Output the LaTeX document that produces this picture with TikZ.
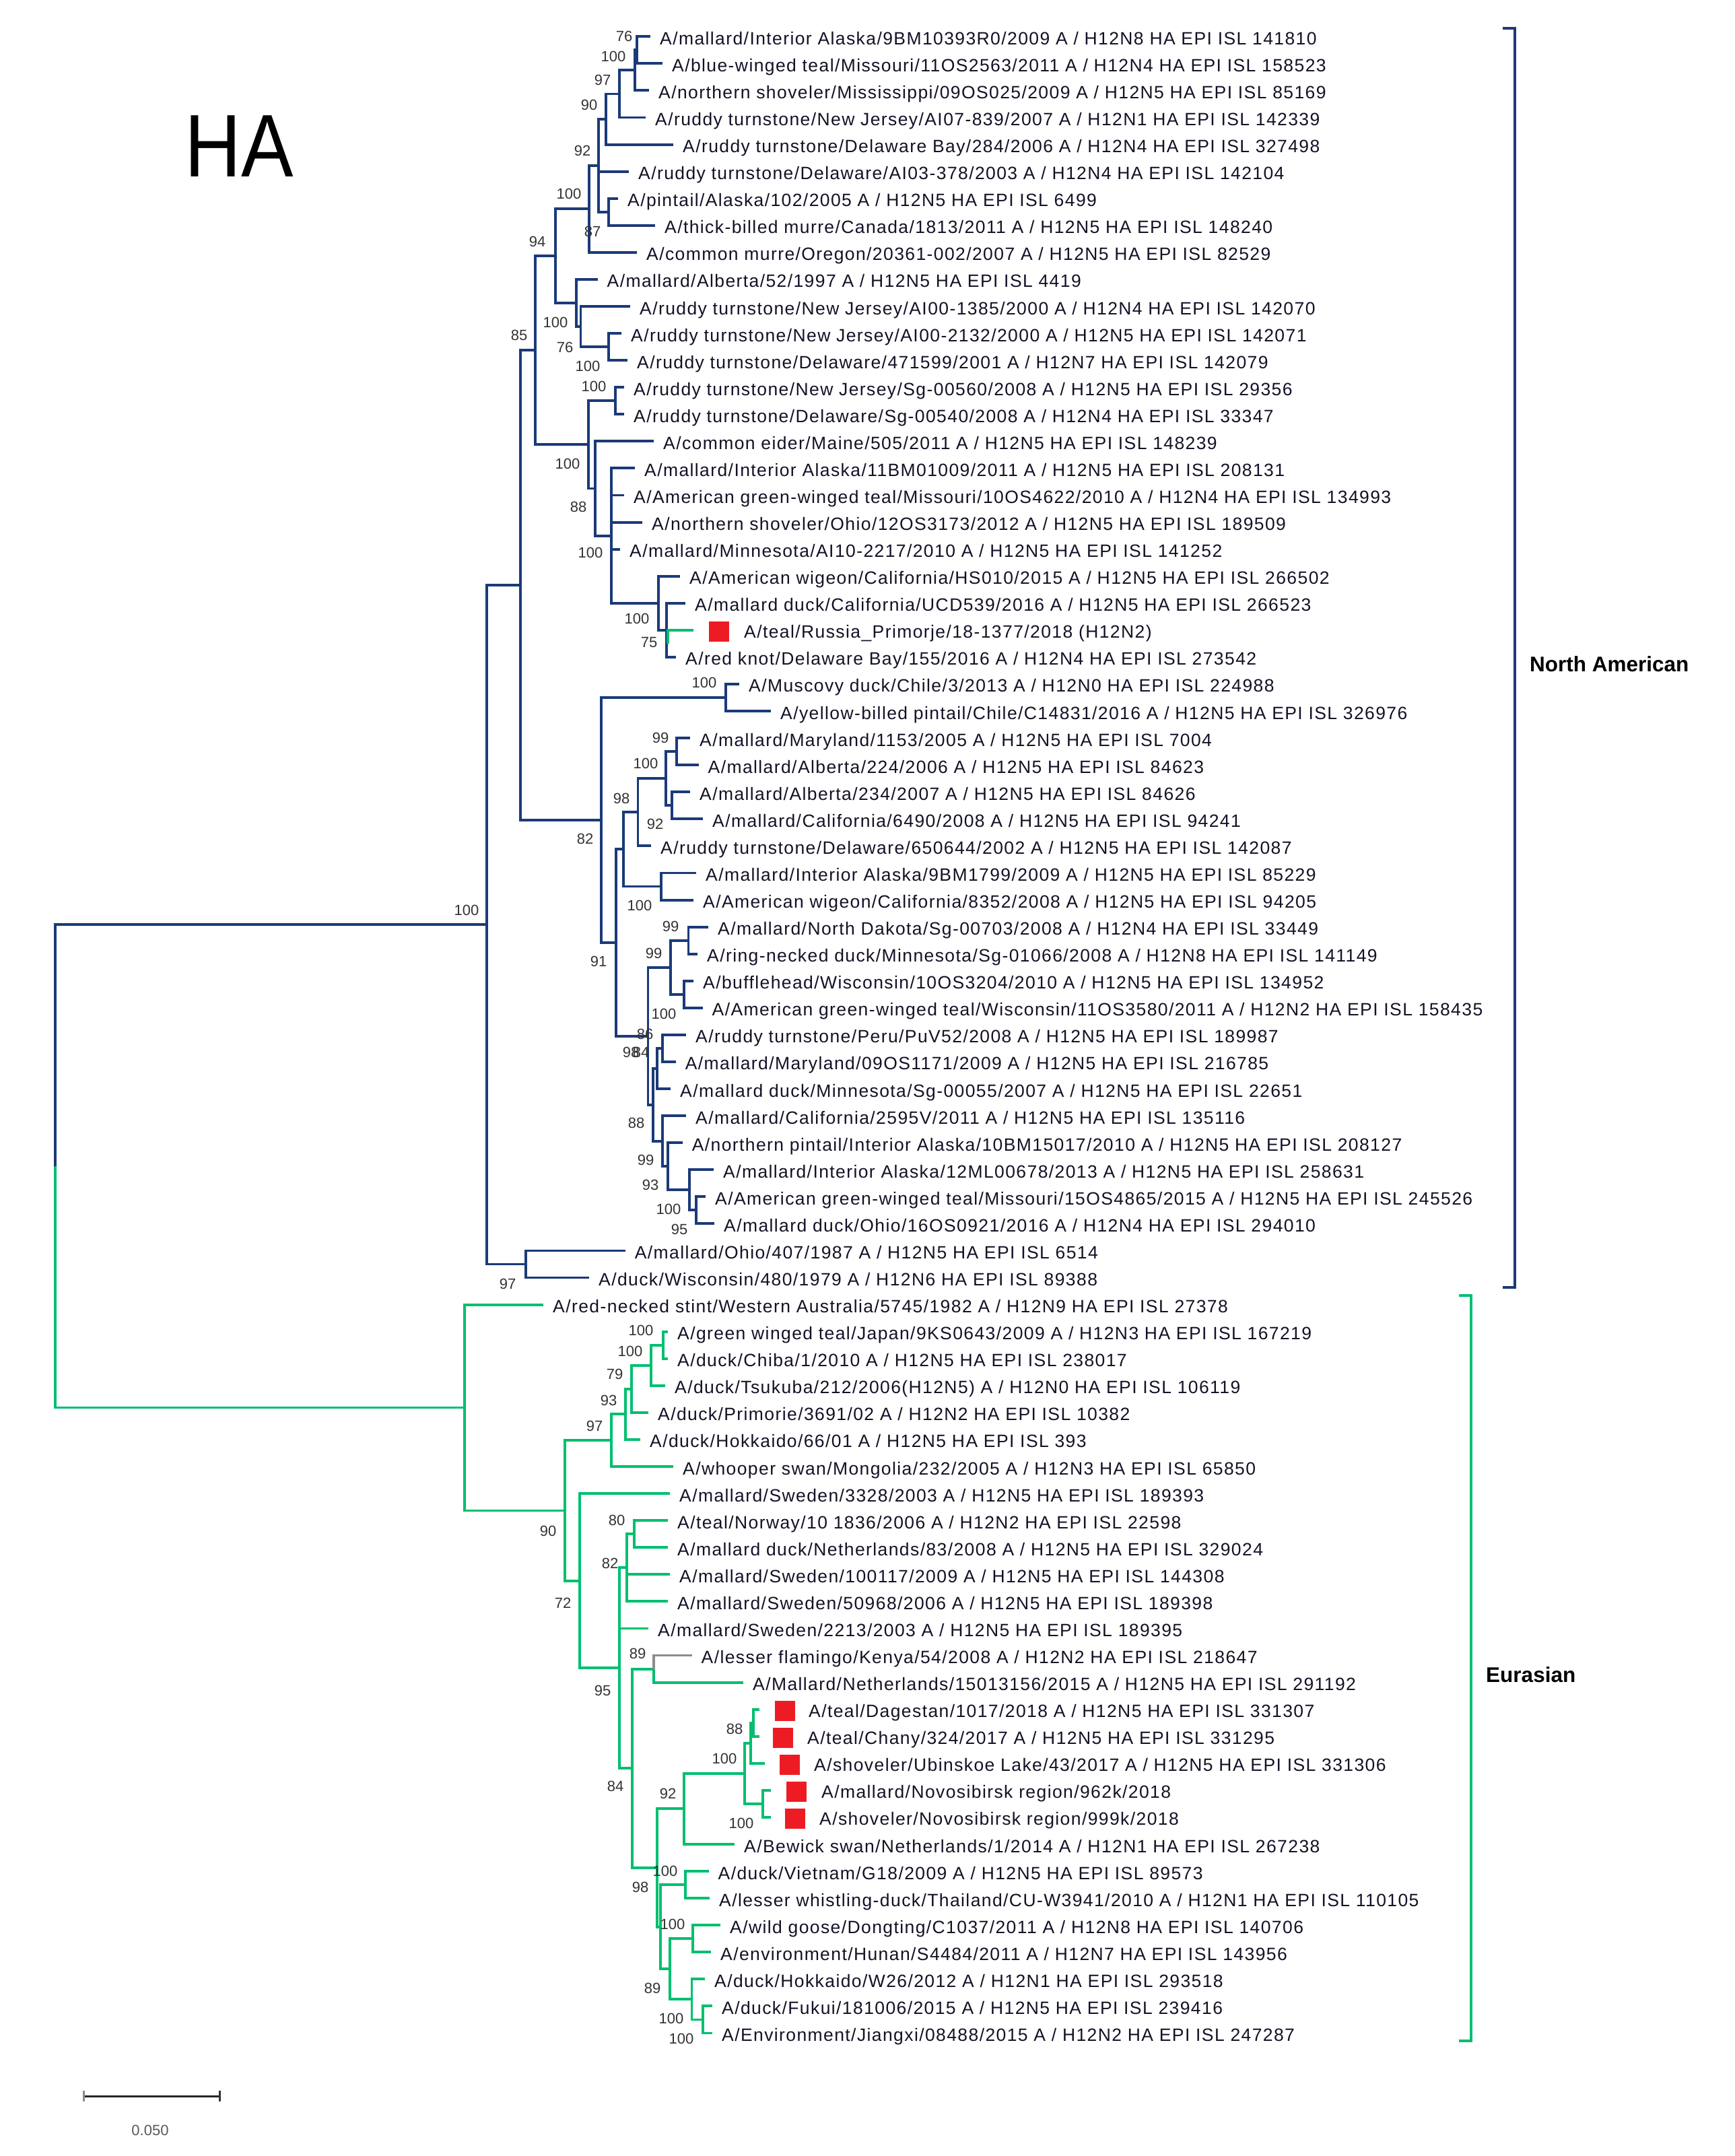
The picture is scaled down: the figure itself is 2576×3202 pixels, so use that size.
\documentclass[tikz,border=0pt]{standalone}
\usepackage{fontspec}
\usepackage{graphicx}
\setmainfont{Liberation Sans}
\newfontfamily\leaffont[LetterSpace=5.3]{Liberation Sans}
\definecolor{nablue}{HTML}{1B3A78}
\definecolor{eugreen}{HTML}{00BF6F}
\definecolor{flgrey}{HTML}{8C8C8C}
\definecolor{sqred}{HTML}{ED1C24}
\definecolor{bsgrey}{HTML}{333333}
\definecolor{txtcol}{HTML}{121226}
\tikzset{
  na/.style={draw=nablue,line width=3.9pt},
  eu/.style={draw=eugreen,line width=3.9pt},
  fl/.style={draw=flgrey,line width=3.9pt},
  lt/.style={anchor=base west,inner sep=0pt,yshift=-12pt,text=txtcol,font=\leaffont\fontsize{26.5}{30}\selectfont},
  ltip/.style={lt,xshift=14pt},
  bs/.style={anchor=center,inner sep=0pt,text height=16pt,text depth=0pt,text=bsgrey,font=\fontsize{22}{24}\selectfont},
  sq/.style={fill=sqred,draw=none,minimum size=30pt,inner sep=0pt},
  brna/.style={draw=nablue,line width=4.6pt},
  breu/.style={draw=eugreen,line width=4.6pt},
  region/.style={anchor=west,inner sep=0pt,text height=23pt,text depth=0pt,font=\bfseries\fontsize{31.5}{34}\selectfont}
}
\newcommand{\lf}[4]{\coordinate (l#1) at (#2,{54.3+(#1-1)*40.07}); \node[ltip] (l#1t) at (l#1) {#3#4};}
\newcommand{\nd}[3]{\coordinate (#1) at (#3,{54.3+(#2-1)*40.07});}
\begin{document}
\begin{tikzpicture}[x=1pt,y=-1pt]
\useasboundingbox (0,0) rectangle (2576,3202);
% ---------------- leaves: North American ----------------
\lf{1}{966}{A/mallard/Interior Alaska/9BM10393R0/2009 A / H12N8 HA EPI ISL 141810}{}
\lf{2}{984}{A/blue-winged teal/Missouri/11OS2563/2011 A / H12N4 HA EPI ISL 158523}{}
\lf{3}{964}{A/northern shoveler/Mississippi/09OS025/2009 A / H12N5 HA EPI ISL 85169}{}
\lf{4}{959}{A/ruddy turnstone/New Jersey/AI07-839/2007 A / H12N1 HA EPI ISL 142339}{}
\lf{5}{1000}{A/ruddy turnstone/Delaware Bay/284/2006 A / H12N4 HA EPI ISL 327498}{}
\lf{6}{934}{A/ruddy turnstone/Delaware/AI03-378/2003 A / H12N4 HA EPI ISL 142104}{}
\lf{7}{918}{A/pintail/Alaska/102/2005 A / H12N5 HA EPI ISL 6499}{}
\lf{8}{973}{A/thick-billed murre/Canada/1813/2011 A / H12N5 HA EPI ISL 148240}{}
\lf{9}{946}{A/common murre/Oregon/20361-002/2007 A / H12N5 HA EPI ISL 82529}{}
\lf{10}{887.5}{A/mallard/Alberta/52/1997 A / H12N5 HA EPI ISL 4419}{}
\lf{11}{936}{A/ruddy turnstone/New Jersey/AI00-1385/2000 A / H12N4 HA EPI ISL 142070}{}
\lf{12}{923}{A/ruddy turnstone/New Jersey/AI00-2132/2000 A / H12N5 HA EPI ISL 142071}{}
\lf{13}{932}{A/ruddy turnstone/Delaware/471599/2001 A / H12N7 HA EPI ISL 142079}{}
\lf{14}{927}{A/ruddy turnstone/New Jersey/Sg-00560/2008 A / H12N5 HA EPI ISL 29356}{}
\lf{15}{927}{A/ruddy turnstone/Delaware/Sg-00540/2008 A / H12N4 HA EPI ISL 33347}{}
\lf{16}{971}{A/common eider/Maine/505/2011 A / H12N5 HA EPI ISL 148239}{}
\lf{17}{943}{A/mallard/Interior Alaska/11BM01009/2011 A / H12N5 HA EPI ISL 208131}{}
\lf{18}{927}{A/American green-winged teal/Missouri/10OS4622/2010 A / H12N4 HA EPI ISL 134993}{}
\lf{19}{954}{A/northern shoveler/Ohio/12OS3173/2012 A / H12N5 HA EPI ISL 189509}{}
\lf{20}{921}{A/mallard/Minnesota/AI10-2217/2010 A / H12N5 HA EPI ISL 141252}{}
\lf{21}{1010}{A/American wigeon/California/HS010/2015 A / H12N5 HA EPI ISL 266502}{}
\lf{22}{1018}{A/mallard duck/California/UCD539/2016 A / H12N5 HA EPI ISL 266523}{}
\coordinate (l23) at (1030,{54.3+22*40.07});
\node[sq] (s23) at (1068,{54.3+22*40.07+2}) {};
\node[lt] (l23t) at (1105,{54.3+22*40.07}) {A/teal/Russia\_Primorje/18-1377/2018 (H12N2)};
\lf{24}{1004}{A/red knot/Delaware Bay/155/2016 A / H12N4 HA EPI ISL 273542}{}
\lf{25}{1098}{A/Muscovy duck/Chile/3/2013 A / H12N0 HA EPI ISL 224988}{}
\lf{26}{1145}{A/yellow-billed pintail/Chile/C14831/2016 A / H12N5 HA EPI ISL 326976}{}
\lf{27}{1025}{A/mallard/Maryland/1153/2005 A / H12N5 HA EPI ISL 7004}{}
\lf{28}{1037.5}{A/mallard/Alberta/224/2006 A / H12N5 HA EPI ISL 84623}{}
\lf{29}{1025}{A/mallard/Alberta/234/2007 A / H12N5 HA EPI ISL 84626}{}
\lf{30}{1044}{A/mallard/California/6490/2008 A / H12N5 HA EPI ISL 94241}{}
\lf{31}{967}{A/ruddy turnstone/Delaware/650644/2002 A / H12N5 HA EPI ISL 142087}{}
\lf{32}{1034}{A/mallard/Interior Alaska/9BM1799/2009 A / H12N5 HA EPI ISL 85229}{}
\lf{33}{1030}{A/American wigeon/California/8352/2008 A / H12N5 HA EPI ISL 94205}{}
\lf{34}{1052}{A/mallard/North Dakota/Sg-00703/2008 A / H12N4 HA EPI ISL 33449}{}
\lf{35}{1036}{A/ring-necked duck/Minnesota/Sg-01066/2008 A / H12N8 HA EPI ISL 141149}{}
\lf{36}{1030}{A/bufflehead/Wisconsin/10OS3204/2010 A / H12N5 HA EPI ISL 134952}{}
\lf{37}{1043.5}{A/American green-winged teal/Wisconsin/11OS3580/2011 A / H12N2 HA EPI ISL 158435}{}
\lf{38}{1019}{A/ruddy turnstone/Peru/PuV52/2008 A / H12N5 HA EPI ISL 189987}{}
\lf{39}{1003.6}{A/mallard/Maryland/09OS1171/2009 A / H12N5 HA EPI ISL 216785}{}
\lf{40}{996}{A/mallard duck/Minnesota/Sg-00055/2007 A / H12N5 HA EPI ISL 22651}{}
\lf{41}{1019}{A/mallard/California/2595V/2011 A / H12N5 HA EPI ISL 135116}{}
\lf{42}{1013.6}{A/northern pintail/Interior Alaska/10BM15017/2010 A / H12N5 HA EPI ISL 208127}{}
\lf{43}{1060}{A/mallard/Interior Alaska/12ML00678/2013 A / H12N5 HA EPI ISL 258631}{}
\lf{44}{1048}{A/American green-winged teal/Missouri/15OS4865/2015 A / H12N5 HA EPI ISL 245526}{}
\lf{45}{1061}{A/mallard duck/Ohio/16OS0921/2016 A / H12N4 HA EPI ISL 294010}{}
\lf{46}{928.6}{A/mallard/Ohio/407/1987 A / H12N5 HA EPI ISL 6514}{}
\lf{47}{875}{A/duck/Wisconsin/480/1979 A / H12N6 HA EPI ISL 89388}{}
% ---------------- leaves: Eurasian ----------------
\lf{48}{807}{A/red-necked stint/Western Australia/5745/1982 A / H12N9 HA EPI ISL 27378}{}
\lf{49}{992}{A/green winged teal/Japan/9KS0643/2009 A / H12N3 HA EPI ISL 167219}{}
\lf{50}{992}{A/duck/Chiba/1/2010 A / H12N5 HA EPI ISL 238017}{}
\lf{51}{988}{A/duck/Tsukuba/212/2006(H12N5) A / H12N0 HA EPI ISL 106119}{}
\lf{52}{963}{A/duck/Primorie/3691/02 A / H12N2 HA EPI ISL 10382}{}
\lf{53}{951}{A/duck/Hokkaido/66/01 A / H12N5 HA EPI ISL 393}{}
\lf{54}{1000}{A/whooper swan/Mongolia/232/2005 A / H12N3 HA EPI ISL 65850}{}
\lf{55}{995}{A/mallard/Sweden/3328/2003 A / H12N5 HA EPI ISL 189393}{}
\lf{56}{992}{A/teal/Norway/10 1836/2006 A / H12N2 HA EPI ISL 22598}{}
\lf{57}{992}{A/mallard duck/Netherlands/83/2008 A / H12N5 HA EPI ISL 329024}{}
\lf{58}{995}{A/mallard/Sweden/100117/2009 A / H12N5 HA EPI ISL 144308}{}
\lf{59}{992}{A/mallard/Sweden/50968/2006 A / H12N5 HA EPI ISL 189398}{}
\lf{60}{963}{A/mallard/Sweden/2213/2003 A / H12N5 HA EPI ISL 189395}{}
\lf{61}{1027.5}{A/lesser flamingo/Kenya/54/2008 A / H12N2 HA EPI ISL 218647}{}
\lf{62}{1104}{A/Mallard/Netherlands/15013156/2015 A / H12N5 HA EPI ISL 291192}{}
\coordinate (l63) at (1127.5,{54.3+62*40.07});
\node[sq] (s63) at (1166,{54.3+62*40.07+2}) {};
\node[lt] (l63t) at (1201,{54.3+62*40.07}) {A/teal/Dagestan/1017/2018 A / H12N5 HA EPI ISL 331307};
\coordinate (l64) at (1127.5,{54.3+63*40.07});
\node[sq] (s64) at (1163,{54.3+63*40.07+2}) {};
\node[lt] (l64t) at (1199,{54.3+63*40.07}) {A/teal/Chany/324/2017 A / H12N5 HA EPI ISL 331295};
\coordinate (l65) at (1136,{54.3+64*40.07});
\node[sq] (s65) at (1173,{54.3+64*40.07+2}) {};
\node[lt] (l65t) at (1209,{54.3+64*40.07}) {A/shoveler/Ubinskoe Lake/43/2017 A / H12N5 HA EPI ISL 331306};
\coordinate (l66) at (1145,{54.3+65*40.07});
\node[sq] (s66) at (1183,{54.3+65*40.07+2}) {};
\node[lt] (l66t) at (1220,{54.3+65*40.07}) {A/mallard/Novosibirsk region/962k/2018};
\coordinate (l67) at (1145,{54.3+66*40.07});
\node[sq] (s67) at (1181,{54.3+66*40.07+2}) {};
\node[lt] (l67t) at (1217,{54.3+66*40.07}) {A/shoveler/Novosibirsk region/999k/2018};
\lf{68}{1091}{A/Bewick swan/Netherlands/1/2014 A / H12N1 HA EPI ISL 267238}{}
\lf{69}{1052.5}{A/duck/Vietnam/G18/2009 A / H12N5 HA EPI ISL 89573}{}
\lf{70}{1054}{A/lesser whistling-duck/Thailand/CU-W3941/2010 A / H12N1 HA EPI ISL 110105}{}
\lf{71}{1070}{A/wild goose/Dongting/C1037/2011 A / H12N8 HA EPI ISL 140706}{}
\lf{72}{1056}{A/environment/Hunan/S4484/2011 A / H12N7 HA EPI ISL 143956}{}
\lf{73}{1047}{A/duck/Hokkaido/W26/2012 A / H12N1 HA EPI ISL 293518}{}
\lf{74}{1058}{A/duck/Fukui/181006/2015 A / H12N5 HA EPI ISL 239416}{}
\lf{75}{1058}{A/Environment/Jiangxi/08488/2015 A / H12N2 HA EPI ISL 247287}{}
% ---------------- internal nodes ----------------
\nd{n1}{1.5}{946} \nd{n2}{2.25}{943} \nd{n3}{3.125}{920} \nd{n4}{4.0625}{900}
\nd{n6}{7.5}{904} \nd{n5}{5.78125}{889} \nd{n7}{7.390625}{875}
\nd{n11}{12.5}{903.6} \nd{n10}{11.75}{862.5} \nd{n9}{10.875}{856}
\nd{n8}{9.1328}{825} \nd{n13}{14.5}{914} \nd{n18}{23}{990} \nd{n17}{22}{978}
\nd{n16}{19.5}{908} \nd{n15}{17.75}{884} \nd{n14}{16.125}{874} \nd{n12}{12.629}{795}
\nd{n22}{25.5}{1078} \nd{n23}{27.5}{1005} \nd{n24}{29.5}{998} \nd{n25}{28.5}{989}
\nd{n26}{29.75}{947.5} \nd{n28}{32.5}{982} \nd{n27}{31.125}{926}
\nd{n30}{34.5}{1022.5} \nd{n32}{36.5}{1016} \nd{n31}{35.5}{996}
\nd{n34}{38.5}{984} \nd{n35}{39.25}{976} \nd{n40}{44.5}{1034} \nd{n39}{43.75}{1024}
\nd{n38}{42.875}{992} \nd{n37}{41.9375}{984} \nd{n36}{40.59375}{970}
\nd{n33}{38.046875}{962.5} \nd{n29}{34.5859}{915} \nd{n21}{30.043}{893}
\nd{n19}{21.336}{773} \nd{n41}{46.5}{781} \nd{n20}{33.918}{723}
\nd{n43}{49.5}{985} \nd{n44}{50.25}{967} \nd{n45}{51.125}{938} \nd{n46}{52.0625}{929}
\nd{n47}{53.03125}{908} \nd{n50}{56.5}{942} \nd{n51}{57.75}{931} \nd{n54}{61.5}{971}
\nd{n61}{63.5}{1118.6} \nd{n59}{64.25}{1115} \nd{n60}{66.5}{1133} \nd{n58}{65.375}{1106}
\nd{n56}{66.6875}{1016} \nd{n63}{69.5}{1018} \nd{n65}{71.5}{1029} \nd{n67}{74.5}{1043.6}
\nd{n66}{73.75}{1027.5} \nd{n64}{72.625}{995} \nd{n62}{71.0625}{981} \nd{n55}{68.875}{976}
\nd{n53}{65.1875}{939} \nd{n52}{61.46875}{920} \nd{n48}{58.234}{861} \nd{n42}{55.633}{839}
\nd{neu}{51.816}{690} \nd{root}{42.867}{82}
% ---------------- North American branches ----------------
\draw[na] (n1) |- (l1) (n1) |- (l2)
  (n2) |- (n1) (n2) |- (l3)
  (n3) |- (n2) (n3) |- (l4)
  (n4) |- (n3) (n4) |- (l5)
  (n6) |- (l7) (n6) |- (l8)
  (n5) |- (n4) (n5) |- (l6) (n5) |- (n6)
  (n7) |- (n5) (n7) |- (l9)
  (n11) |- (l12) (n11) |- (l13)
  (n10) |- (l11) (n10) |- (n11)
  (n9) |- (l10) (n9) |- (n10)
  (n8) |- (n7) (n8) |- (n9)
  (n13) |- (l14) (n13) |- (l15)
  (n18) |- (l22) (n18) |- (l24)
  (n17) |- (l21) (n17) |- (n18)
  (n16) |- (l17) (n16) |- (l18) (n16) |- (l19) (n16) |- (l20) (n16) |- (n17)
  (n15) |- (l16) (n15) |- (n16)
  (n14) |- (n13) (n14) |- (n15)
  (n12) |- (n8) (n12) |- (n14)
  (n22) |- (l25) (n22) |- (l26)
  (n23) |- (l27) (n23) |- (l28)
  (n24) |- (l29) (n24) |- (l30)
  (n25) |- (n23) (n25) |- (n24)
  (n26) |- (n25) (n26) |- (l31)
  (n28) |- (l32) (n28) |- (l33)
  (n27) |- (n26) (n27) |- (n28)
  (n30) |- (l34) (n30) |- (l35)
  (n32) |- (l36) (n32) |- (l37)
  (n31) |- (n30) (n31) |- (n32)
  (n34) |- (l38) (n34) |- (l39)
  (n35) |- (n34) (n35) |- (l40)
  (n40) |- (l44) (n40) |- (l45)
  (n39) |- (l43) (n39) |- (n40)
  (n38) |- (l42) (n38) |- (n39)
  (n37) |- (l41) (n37) |- (n38)
  (n36) |- (n35) (n36) |- (n37)
  (n33) |- (n31) (n33) |- (n36)
  (n29) |- (n27) (n29) |- (n33)
  (n21) |- (n22) (n21) |- (n29)
  (n19) |- (n12) (n19) |- (n21)
  (n41) |- (l46) (n41) |- (l47)
  (n20) |- (n19) (n20) |- (n41)
  (root) |- (n20);
\draw[eu] (n18) |- (l23);
\draw[eu] ([xshift=2pt]n18) -- ([xshift=2pt,yshift=-20pt]n18);
% ---------------- Eurasian branches ----------------
\draw[eu] (root) |- (neu)
  (neu) |- (l48) (neu) |- (n42)
  (n43) |- (l49) (n43) |- (l50)
  (n44) |- (n43) (n44) |- (l51)
  (n45) |- (n44) (n45) |- (l52)
  (n46) |- (n45) (n46) |- (l53)
  (n47) |- (n46) (n47) |- (l54)
  (n50) |- (l56) (n50) |- (l57)
  (n51) |- (n50) (n51) |- (l58) (n51) |- (l59)
  (n54) |- (l62)
  (n61) |- (l63) (n61) |- (l64)
  (n59) |- (n61) (n59) |- (l65)
  (n60) |- (l66) (n60) |- (l67)
  (n58) |- (n59) (n58) |- (n60)
  (n56) |- (n58) (n56) |- (l68)
  (n63) |- (l69) (n63) |- (l70)
  (n65) |- (l71) (n65) |- (l72)
  (n67) |- (l74) (n67) |- (l75)
  (n66) |- (l73) (n66) |- (n67)
  (n64) |- (n65) (n64) |- (n66)
  (n62) |- (n63) (n62) |- (n64)
  (n55) |- (n56) (n55) |- (n62)
  (n53) |- (n54) (n53) |- (n55)
  (n52) |- (n51) (n52) |- (l60) (n52) |- (n53)
  (n48) |- (l55) (n48) |- (n52)
  (n42) |- (n47) (n42) |- (n48);
\draw[fl] (n54) |- (l61);
% ---------------- bootstrap values ----------------
\node[bs] (b1) at (927,53) {76};
\node[bs] (b2) at (911,83) {100};
\node[bs] (b3) at (895,118) {97};
\node[bs] (b4) at (875,155) {90};
\node[bs] (b5) at (865,223) {92};
\node[bs] (b6) at (845,287) {100};
\node[bs] (b7) at (880,343) {87};
\node[bs] (b8) at (798,358) {94};
\node[bs] (b9) at (825,478) {100};
\node[bs] (b10) at (771,497) {85};
\node[bs] (b11) at (839,515) {76};
\node[bs] (b12) at (873,543) {100};
\node[bs] (b13) at (882,573) {100};
\node[bs] (b14) at (843,688) {100};
\node[bs] (b15) at (859,752) {88};
\node[bs] (b16) at (877,820) {100};
\node[bs] (b17) at (946,918) {100};
\node[bs] (b18) at (964,953) {75};
\node[bs] (b19) at (1046,1013) {100};
\node[bs] (b20) at (981,1095) {99};
\node[bs] (b21) at (959,1133) {100};
\node[bs] (b22) at (923,1185) {98};
\node[bs] (b23) at (973,1223) {92};
\node[bs] (b24) at (869,1245) {82};
\node[bs] (b25) at (950,1344) {100};
\node[bs] (b26) at (996,1375) {99};
\node[bs] (b27) at (971,1415) {99};
\node[bs] (b28) at (889,1427) {91};
\node[bs] (b29) at (986,1505) {100};
\node[bs] (b30) at (958,1535) {86};
\node[bs] (b31) at (937,1562) {98};
\node[bs] (b32) at (952,1562) {84};
\node[bs] (b33) at (945,1667) {88};
\node[bs] (b34) at (959,1722) {99};
\node[bs] (b35) at (966,1759) {93};
\node[bs] (b36) at (993,1795) {100};
\node[bs] (b37) at (1009,1825) {95};
\node[bs] (b38) at (754,1906) {97};
\node[bs] (b39) at (693,1351) {100};
\node[bs] (b40) at (952,1975) {100};
\node[bs] (b41) at (936,2006) {100};
\node[bs] (b42) at (913,2040) {79};
\node[bs] (b43) at (904,2079) {93};
\node[bs] (b44) at (883,2117) {97};
\node[bs] (b45) at (814,2273) {90};
\node[bs] (b46) at (916,2257) {80};
\node[bs] (b47) at (906,2321) {82};
\node[bs] (b48) at (836,2380) {72};
\node[bs] (b49) at (947,2455) {89};
\node[bs] (b50) at (895,2510) {95};
\node[bs] (b51) at (1091,2567) {88};
\node[bs] (b52) at (1076,2611) {100};
\node[bs] (b53) at (914,2652) {84};
\node[bs] (b54) at (992,2663) {92};
\node[bs] (b55) at (1101,2707) {100};
\node[bs] (b56) at (988,2778) {100};
\node[bs] (b57) at (951,2802) {98};
\node[bs] (b58) at (999,2857) {100};
\node[bs] (b59) at (969,2952) {89};
\node[bs] (b60) at (997,2997) {100};
\node[bs] (b61) at (1012,3027) {100};
% ---------------- clade brackets ----------------
\coordinate (nat) at (2250,42); \coordinate (nab) at (2250,1912);
\draw[brna] ([xshift=-18pt]nat) -- (nat) -- (nab) -- ([xshift=-18pt]nab);
\node[region] (nalab) at (2272,986) {North American};
\coordinate (eut) at (2185,1924); \coordinate (eub) at (2185,3031);
\draw[breu] ([xshift=-18pt]eut) -- (eut) -- (eub) -- ([xshift=-18pt]eub);
\node[region] (eulab) at (2207,2487) {Eurasian};
% ---------------- title and scale bar ----------------
\node[anchor=center,inner sep=0pt,font=\fontsize{132}{140}\selectfont] (title) at (355,217) {\scalebox{0.88}[1]{HA}};
\coordinate (sbl) at (124,3113); \coordinate (sbr) at (326,3113);
\draw[line width=3pt,draw=black!85] (sbl) -- (sbr);
\draw[line width=3pt,draw=black!45] ([yshift=8pt]sbl) -- ([yshift=-8pt]sbl);
\draw[line width=3pt,draw=black!80] ([yshift=8pt]sbr) -- ([yshift=-8pt]sbr);
\node[bs,text=black!65] (sblab) at (223,3163) {0.050};
\end{tikzpicture}
\end{document}
